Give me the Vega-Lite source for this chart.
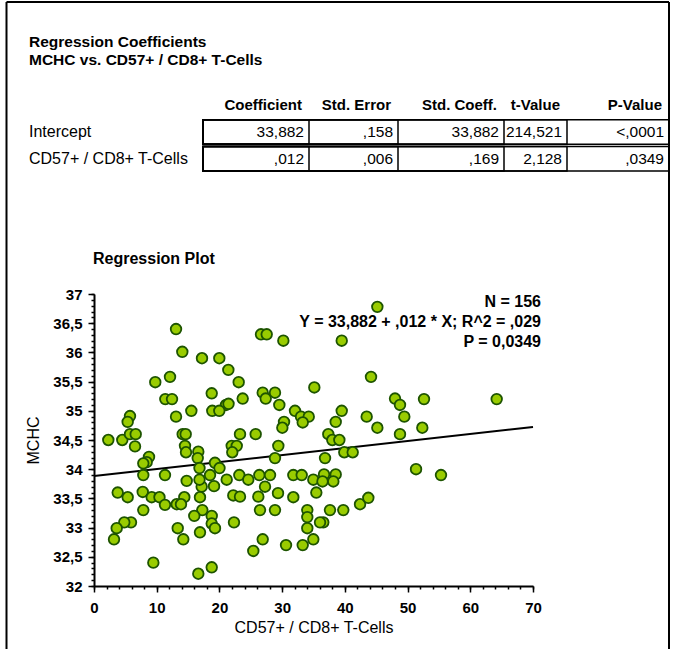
{
  "$schema": "https://vega.github.io/schema/vega-lite/v6.json",
  "autosize": {"type": "none"},
  "width": 439,
  "height": 292,
  "padding": {"left": 94, "top": 294, "right": 141, "bottom": 63},
  "background": "white",
  "config": {
    "view": {"stroke": null},
    "font": "Liberation Sans",
    "axis": {"grid": false},
    "text": {"font": "Liberation Sans", "color": "black"}
  },
  "datasets": {
    "points": [
      {"x":13.08,"y":36.40},{"x":14.08,"y":36.01},{"x":17.22,"y":35.90},{"x":19.98,"y":35.90},{"x":21.42,"y":35.70},
      {"x":23.07,"y":35.49},{"x":9.77,"y":35.49},{"x":12.12,"y":35.58},{"x":11.37,"y":35.20},{"x":12.44,"y":35.20},
      {"x":18.77,"y":35.30},{"x":23.71,"y":35.21},{"x":21.05,"y":35.10},{"x":21.45,"y":35.12},{"x":18.86,"y":35.00},
      {"x":19.98,"y":35.00},{"x":15.52,"y":35.00},{"x":13.08,"y":34.90},{"x":26.63,"y":36.31},{"x":27.54,"y":36.31},
      {"x":30.19,"y":36.20},{"x":26.90,"y":35.31},{"x":27.38,"y":35.21},{"x":28.86,"y":35.31},{"x":29.55,"y":35.10},
      {"x":32.05,"y":35.00},{"x":33.01,"y":34.90},{"x":34.24,"y":34.90},{"x":30.30,"y":34.81},{"x":30.03,"y":34.71},
      {"x":33.28,"y":34.80},{"x":35.13,"y":35.40},{"x":45.18,"y":36.78},{"x":39.50,"y":36.20},{"x":44.17,"y":35.58},
      {"x":48.00,"y":35.21},{"x":48.79,"y":35.10},{"x":52.62,"y":35.20},{"x":64.21,"y":35.20},{"x":39.50,"y":35.00},
      {"x":38.54,"y":34.81},{"x":43.48,"y":34.90},{"x":45.18,"y":34.71},{"x":49.48,"y":34.90},{"x":52.35,"y":34.71},
      {"x":48.79,"y":34.60},{"x":37.36,"y":34.60},{"x":38.00,"y":34.50},{"x":39.12,"y":34.50},{"x":39.91,"y":34.29},
      {"x":41.25,"y":34.29},{"x":36.84,"y":34.19},{"x":51.35,"y":34.00},{"x":55.33,"y":33.90},{"x":2.28,"y":34.50},
      {"x":4.51,"y":34.50},{"x":5.74,"y":34.91},{"x":5.37,"y":34.81},{"x":5.74,"y":34.60},{"x":6.65,"y":34.60},
      {"x":6.54,"y":34.39},{"x":14.14,"y":34.60},{"x":14.62,"y":34.60},{"x":14.51,"y":34.40},{"x":14.67,"y":34.29},
      {"x":16.63,"y":34.30},{"x":16.54,"y":34.19},{"x":8.77,"y":34.21},{"x":8.40,"y":34.12},{"x":7.86,"y":34.10},
      {"x":7.86,"y":33.90},{"x":11.32,"y":33.90},{"x":14.78,"y":33.80},{"x":16.82,"y":34.02},{"x":18.50,"y":33.90},
      {"x":19.29,"y":34.11},{"x":17.17,"y":33.70},{"x":19.14,"y":33.71},{"x":3.78,"y":33.60},{"x":5.37,"y":33.52},
      {"x":7.77,"y":33.61},{"x":9.20,"y":33.52},{"x":10.44,"y":33.52},{"x":14.40,"y":33.52},{"x":16.90,"y":33.52},
      {"x":23.28,"y":34.60},{"x":25.78,"y":34.60},{"x":21.96,"y":34.40},{"x":22.76,"y":34.40},{"x":22.05,"y":34.29},
      {"x":29.39,"y":34.40},{"x":28.86,"y":34.19},{"x":20.01,"y":34.02},{"x":21.16,"y":33.82},{"x":23.17,"y":33.90},
      {"x":24.60,"y":33.82},{"x":26.36,"y":33.90},{"x":28.07,"y":33.90},{"x":27.27,"y":33.70},{"x":31.78,"y":33.90},
      {"x":33.12,"y":33.90},{"x":34.97,"y":33.82},{"x":36.68,"y":33.91},{"x":36.44,"y":33.79},{"x":38.54,"y":33.91},
      {"x":38.16,"y":33.79},{"x":35.45,"y":33.60},{"x":22.21,"y":33.55},{"x":23.28,"y":33.53},{"x":26.20,"y":33.53},
      {"x":29.34,"y":33.59},{"x":31.78,"y":33.52},{"x":42.42,"y":33.40},{"x":43.74,"y":33.51},{"x":7.86,"y":33.30},
      {"x":11.32,"y":33.39},{"x":13.19,"y":33.40},{"x":13.87,"y":33.40},{"x":17.27,"y":33.30},{"x":15.99,"y":33.20},
      {"x":18.77,"y":33.20},{"x":18.77,"y":33.07},{"x":19.29,"y":32.99},{"x":5.90,"y":33.09},{"x":4.83,"y":33.09},
      {"x":3.62,"y":32.99},{"x":3.19,"y":32.80},{"x":13.35,"y":32.99},{"x":14.24,"y":32.80},{"x":16.90,"y":32.92},
      {"x":9.46,"y":32.40},{"x":16.63,"y":32.21},{"x":18.77,"y":32.32},{"x":26.47,"y":33.30},{"x":28.86,"y":33.30},
      {"x":34.01,"y":33.30},{"x":34.01,"y":33.18},{"x":34.01,"y":32.99},{"x":36.56,"y":33.09},{"x":36.04,"y":33.09},
      {"x":37.63,"y":33.30},{"x":39.75,"y":33.30},{"x":22.32,"y":33.09},{"x":26.90,"y":32.80},{"x":25.40,"y":32.60},
      {"x":30.62,"y":32.70},{"x":33.28,"y":32.70},{"x":34.97,"y":32.80},{"x":16.82,"y":33.82}
    ],
    "regline": [{"x": 0, "y": 33.882}, {"x": 70, "y": 34.722}],
    "table": [
      {"row": "Intercept", "col": "Coefficient", "ci": 1, "value": "33,882"},
      {"row": "Intercept", "col": "Std. Error", "ci": 2, "value": ",158"},
      {"row": "Intercept", "col": "Std. Coeff.", "ci": 3, "value": "33,882"},
      {"row": "Intercept", "col": "t-Value", "ci": 4, "value": "214,521"},
      {"row": "Intercept", "col": "P-Value", "ci": 5, "value": "<,0001"},
      {"row": "CD57+ / CD8+ T-Cells", "col": "Coefficient", "ci": 1, "value": ",012"},
      {"row": "CD57+ / CD8+ T-Cells", "col": "Std. Error", "ci": 2, "value": ",006"},
      {"row": "CD57+ / CD8+ T-Cells", "col": "Std. Coeff.", "ci": 3, "value": ",169"},
      {"row": "CD57+ / CD8+ T-Cells", "col": "t-Value", "ci": 4, "value": "2,128"},
      {"row": "CD57+ / CD8+ T-Cells", "col": "P-Value", "ci": 5, "value": ",0349"}
    ],
    "frame": [
      {"side": "left", "x1": 0, "x2": 0, "y1": 0, "y2": 1},
      {"side": "right", "x1": 1, "x2": 1, "y1": 0, "y2": 1},
      {"side": "top", "x1": 0, "x2": 1, "y1": 0, "y2": 0}
    ]
  },
  "layer": [
    {
      "layer": [
        {
          "data": {"name": "regline"},
          "mark": {"type": "line", "color": "black", "strokeWidth": 2},
          "encoding": {
            "x": {"field": "x", "type": "quantitative", "axis": null},
            "y": {"field": "y", "type": "quantitative", "axis": null}
          }
        },
        {
          "data": {"name": "points"},
          "mark": {"type": "point", "shape": "circle", "filled": true, "fill": "#99cc00", "stroke": "#1d5400", "strokeWidth": 1.8, "size": 112, "opacity": 1},
          "encoding": {
            "x": {
              "field": "x", "type": "quantitative",
              "scale": {"domain": [0, 70], "nice": false, "zero": false},
              "axis": {
                "orient": "bottom", "values": [0, 10, 20, 30, 40, 50, 60, 70],
                "title": "CD57+ / CD8+ T-Cells",
                "domainColor": "black", "domainWidth": 2,
                "tickColor": "black", "tickWidth": 1.5, "tickSize": 6,
                "labelFont": "Liberation Sans", "labelFontSize": 15, "labelFontWeight": "bold", "labelColor": "black",
                "labelPadding": 8, "labelFlush": false, "labelOverlap": false,
                "titleFont": "Liberation Sans", "titleFontSize": 16, "titleFontWeight": "normal", "titleColor": "black",
                "titlePadding": 4, "grid": false
              }
            },
            "y": {
              "field": "y", "type": "quantitative",
              "scale": {"domain": [32, 37], "nice": false, "zero": false},
              "axis": {
                "orient": "left", "values": [32, 32.5, 33, 33.5, 34, 34.5, 35, 35.5, 36, 36.5, 37],
                "format": "~f", "labelExpr": "replace(datum.label, '.', ',')",
                "title": "MCHC",
                "domainColor": "black", "domainWidth": 2,
                "tickColor": "black", "tickWidth": 1.5, "tickSize": 6,
                "labelFont": "Liberation Sans", "labelFontSize": 15, "labelFontWeight": "bold", "labelColor": "black",
                "labelPadding": 6, "labelFlush": false, "labelOverlap": false,
                "titleFont": "Liberation Sans", "titleFontSize": 16, "titleFontWeight": "normal", "titleColor": "black",
                "titlePadding": 11, "grid": false
              }
            }
          }
        },
        {
          "data": {"name": "points"},
          "mark": {"type": "point", "opacity": 0},
          "encoding": {
            "x": {
              "field": "x", "type": "quantitative",
              "axis": {
                "orient": "bottom", "values": [0,2,4,6,8,10,12,14,16,18,20,22,24,26,28,30,32,34,36,38,40,42,44,46,48,50,52,54,56,58,60,62,64,66,68,70],
                "labels": false, "domain": false, "tickSize": 3, "tickWidth": 1.5, "tickColor": "black", "title": null, "grid": false
              }
            },
            "y": {
              "field": "y", "type": "quantitative",
              "axis": {
                "orient": "left", "values": [32,32.1,32.2,32.3,32.4,32.5,32.6,32.7,32.8,32.9,33,33.1,33.2,33.3,33.4,33.5,33.6,33.7,33.8,33.9,34,34.1,34.2,34.3,34.4,34.5,34.6,34.7,34.8,34.9,35,35.1,35.2,35.3,35.4,35.5,35.6,35.7,35.8,35.9,36,36.1,36.2,36.3,36.4,36.5,36.6,36.7,36.8,36.9,37],
                "labels": false, "domain": false, "tickSize": 3, "tickWidth": 1.5, "tickColor": "black", "title": null, "grid": false
              }
            }
          }
        },
        {
          "data": {"values": [{}]},
          "mark": {"type": "text", "text": ["N = 156", "Y = 33,882 + ,012 * X; R^2 = ,029", "P = 0,0349"], "align": "right", "baseline": "top", "lineHeight": 20, "dx": 8, "dy": 0, "fontSize": 16, "fontWeight": "bold", "font": "Liberation Sans"},
          "encoding": {
            "x": {"datum": 70, "type": "quantitative", "axis": null},
            "y": {"datum": 37, "type": "quantitative", "axis": null}
          }
        },
        {
          "data": {"values": [{}]},
          "mark": {"type": "text", "text": "Regression Plot", "align": "left", "baseline": "middle", "dx": -1, "dy": -35, "fontSize": 16, "fontWeight": "bold", "font": "Liberation Sans"},
          "encoding": {
            "x": {"datum": 0, "type": "quantitative", "axis": null},
            "y": {"datum": 37, "type": "quantitative", "axis": null}
          }
        }
      ],
      "resolve": {"axis": {"x": "independent", "y": "independent"}}
    },
    {
      "data": {"name": "table"},
      "layer": [
        {
          "mark": {"type": "bar", "filled": false, "color": "black", "strokeWidth": 1.5},
          "encoding": {
            "x": {"field": "ci", "type": "quantitative", "stack": null,
                  "scale": {"domain": [-1, 0, 1, 2, 3, 4, 5], "range": [-65, 109, 215, 304, 410, 473, 575], "nice": false, "zero": false},
                  "axis": null},
            "y": {"field": "row", "type": "nominal",
                  "scale": {"domain": ["header", "Intercept", "CD57+ / CD8+ T-Cells"], "range": [-201, -123], "paddingInner": 0.08, "paddingOuter": 0},
                  "axis": null}
          }
        },
        {
          "mark": {"type": "text", "align": "right", "baseline": "middle", "dx": -5, "fontSize": 15.5, "font": "Liberation Sans"},
          "encoding": {
            "x": {"field": "ci", "type": "quantitative", "axis": null},
            "y": {"field": "row", "type": "nominal", "axis": null},
            "text": {"field": "value"}
          }
        },
        {
          "transform": [{"filter": "datum.row === 'Intercept'"}],
          "mark": {"type": "text", "align": "right", "baseline": "middle", "dx": -7, "fontSize": 15, "fontWeight": "bold", "font": "Liberation Sans"},
          "encoding": {
            "x": {"field": "ci", "type": "quantitative", "axis": null},
            "y": {"datum": "header", "type": "nominal", "axis": null},
            "text": {"field": "col"}
          }
        },
        {
          "transform": [{"filter": "datum.ci === 1"}],
          "mark": {"type": "text", "align": "left", "baseline": "middle", "fontSize": 16, "font": "Liberation Sans"},
          "encoding": {
            "x": {"datum": -1, "type": "quantitative", "axis": null},
            "y": {"field": "row", "type": "nominal", "axis": null},
            "text": {"field": "row"}
          }
        },
        {
          "data": {"values": [{}]},
          "mark": {"type": "text", "text": ["Regression Coefficients", "MCHC vs. CD57+ / CD8+ T-Cells"], "align": "left", "baseline": "middle", "lineHeight": 18, "dy": -63, "fontSize": 15.5, "fontWeight": "bold", "font": "Liberation Sans"},
          "encoding": {
            "x": {"datum": -1, "type": "quantitative", "axis": null},
            "y": {"datum": "header", "type": "nominal", "axis": null}
          }
        }
      ]
    },
    {
      "data": {"name": "frame"},
      "mark": {"type": "rule", "color": "black", "strokeWidth": 2},
      "encoding": {
        "x": {"field": "x1", "type": "quantitative", "scale": {"domain": [0, 1], "range": [-87.5, 575], "nice": false, "zero": false}, "axis": null},
        "x2": {"field": "x2"},
        "y": {"field": "y1", "type": "quantitative", "scale": {"domain": [0, 1], "range": [-292, 360], "nice": false, "zero": false}, "axis": null},
        "y2": {"field": "y2"}
      }
    }
  ],
  "resolve": {"scale": {"x": "independent", "y": "independent"}, "axis": {"x": "independent", "y": "independent"}}
}
